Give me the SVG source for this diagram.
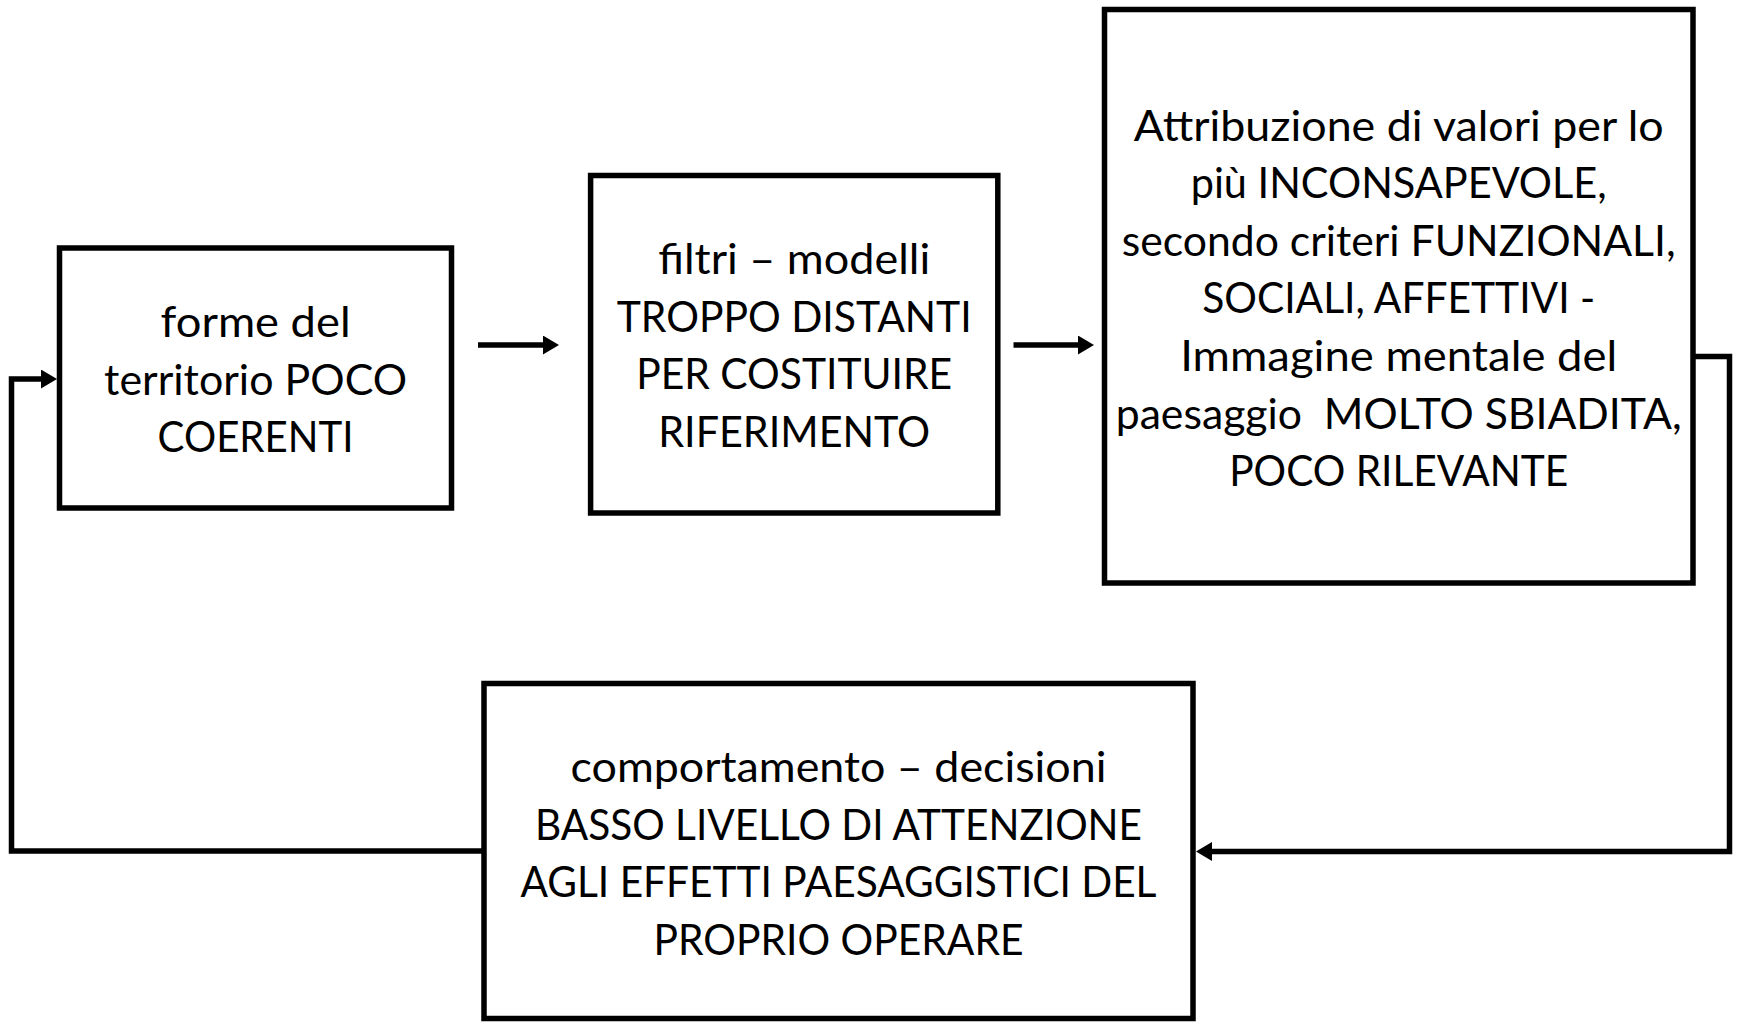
<svg xmlns="http://www.w3.org/2000/svg" width="1738" height="1022" viewBox="0 0 1738 1022">
  <style>
    .box { fill: #ffffff; stroke: #000000; stroke-width: 5.5; }
    .conn { fill: none; stroke: #000000; stroke-width: 5.5; stroke-linecap: butt; stroke-linejoin: miter; }
    .lbl { font-family: Lato, "Liberation Sans", sans-serif; font-size: 43px; fill: #000000; text-anchor: middle; }
  </style>
  <defs>
    <marker id="arrow" markerUnits="userSpaceOnUse" viewBox="0 0 16 19" markerWidth="16" markerHeight="19" refX="4" refY="9.5" orient="auto">
      <path d="M0,0 L16,9.5 L0,19 Z" fill="#000000"/>
    </marker>
  </defs>
  <rect x="0" y="0" width="1738" height="1022" fill="#ffffff"/>

  <g id="connectors">
    <path class="conn" d="M478,345 H547" marker-end="url(#arrow)"/>
    <path class="conn" d="M1013.5,345 H1082" marker-end="url(#arrow)"/>
    <path class="conn" d="M1693,356.5 H1729.5 V851.5 H1208" marker-end="url(#arrow)"/>
    <path class="conn" d="M484,851 H11.5 V379 H45" marker-end="url(#arrow)"/>
  </g>

  <g id="node1">
    <rect class="box" x="59.5" y="248" width="392" height="260"/>
    <text class="lbl" x="255.6" y="337" textLength="190" lengthAdjust="spacingAndGlyphs">forme del</text>
    <text class="lbl" x="255.6" y="394.5" textLength="303" lengthAdjust="spacingAndGlyphs">territorio POCO</text>
    <text class="lbl" x="255.6" y="452" textLength="196" lengthAdjust="spacingAndGlyphs">COERENTI</text>
  </g>

  <g id="node2">
    <rect class="box" x="590.6" y="175.5" width="407.2" height="337.5"/>
    <text class="lbl" x="794.2" y="274" textLength="272" lengthAdjust="spacingAndGlyphs">filtri – modelli</text>
    <text class="lbl" x="794.2" y="331.6" textLength="355" lengthAdjust="spacingAndGlyphs">TROPPO DISTANTI</text>
    <text class="lbl" x="794.2" y="389.2" textLength="316" lengthAdjust="spacingAndGlyphs">PER COSTITUIRE</text>
    <text class="lbl" x="794.2" y="446.8" textLength="272" lengthAdjust="spacingAndGlyphs">RIFERIMENTO</text>
  </g>

  <g id="node3">
    <rect class="box" x="1104.5" y="9.5" width="588.5" height="573.5"/>
    <text class="lbl" x="1398.7" y="140.5" textLength="530" lengthAdjust="spacingAndGlyphs">Attribuzione di valori per lo</text>
    <text class="lbl" x="1398.7" y="198.1" textLength="416" lengthAdjust="spacingAndGlyphs">più INCONSAPEVOLE,</text>
    <text class="lbl" x="1398.7" y="255.7" textLength="554" lengthAdjust="spacingAndGlyphs">secondo criteri FUNZIONALI,</text>
    <text class="lbl" x="1398.7" y="313.3" textLength="393" lengthAdjust="spacingAndGlyphs">SOCIALI, AFFETTIVI -</text>
    <text class="lbl" x="1398.7" y="370.9" textLength="437" lengthAdjust="spacingAndGlyphs">Immagine mentale del</text>
    <text class="lbl" x="1398.7" y="428.5" textLength="566" lengthAdjust="spacingAndGlyphs" xml:space="preserve">paesaggio  MOLTO SBIADITA,</text>
    <text class="lbl" x="1398.7" y="486.1" textLength="339" lengthAdjust="spacingAndGlyphs">POCO RILEVANTE</text>
  </g>

  <g id="node4">
    <rect class="box" x="484" y="683.5" width="709" height="335"/>
    <text class="lbl" x="838.5" y="782" textLength="536" lengthAdjust="spacingAndGlyphs">comportamento – decisioni</text>
    <text class="lbl" x="838.5" y="839.6" textLength="607" lengthAdjust="spacingAndGlyphs">BASSO LIVELLO DI ATTENZIONE</text>
    <text class="lbl" x="838.5" y="897.2" textLength="636" lengthAdjust="spacingAndGlyphs">AGLI EFFETTI PAESAGGISTICI DEL</text>
    <text class="lbl" x="838.5" y="954.8" textLength="370" lengthAdjust="spacingAndGlyphs">PROPRIO OPERARE</text>
  </g>
</svg>
